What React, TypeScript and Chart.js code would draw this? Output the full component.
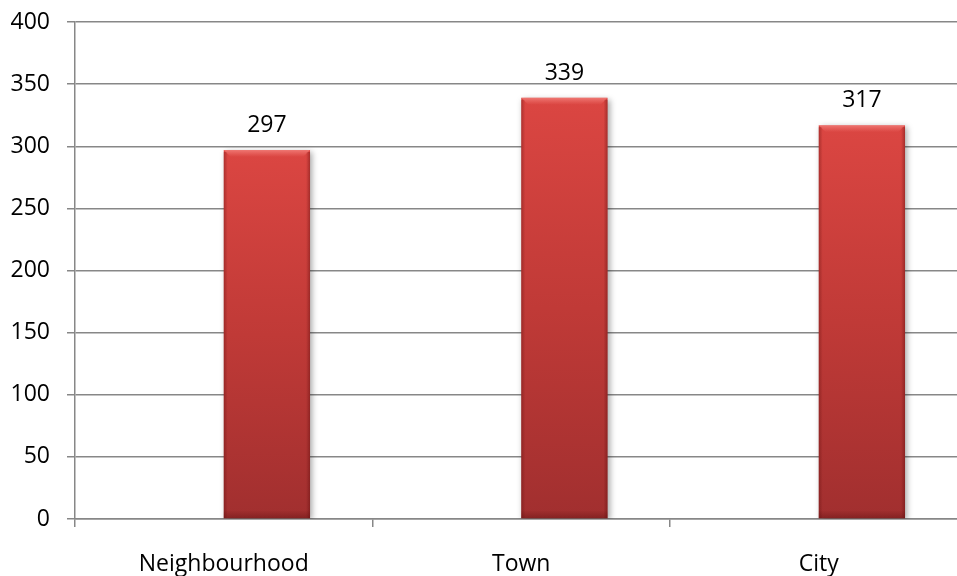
import React, { useEffect, useRef } from "react";
import { Chart, registerables } from "chart.js";

Chart.register(...registerables);

const categories = ["Neighbourhood", "Town", "City"];
const emptySeries: (number | null)[] = [null, null, null];
const values = [297, 339, 317];
const yMin = 0;
const yMax = 400;
const yStep = 50;

const FONT = "'Open Sans', sans-serif";
const FONT_SIZE = 23;
const GRID = "#878787";

const barEffects = {
  id: "barEffects",
  beforeDatasetDraw(chart: any, args: any) {
    if (args.index !== 1) return;
    const ctx = chart.ctx;
    ctx.save();
    ctx.shadowColor = "rgba(0,0,0,0.35)";
    ctx.shadowBlur = 6;
    ctx.shadowOffsetX = 2;
    ctx.shadowOffsetY = 2;
  },
  afterDatasetDraw(chart: any, args: any) {
    if (args.index !== 1) return;
    const ctx = chart.ctx;
    ctx.restore();
    const meta = chart.getDatasetMeta(1);
    meta.data.forEach((bar: any, i: number) => {
      const l = bar.x - bar.width / 2;
      const r = bar.x + bar.width / 2;
      const t = bar.y;
      const b = bar.base;
      if (![l, r, t, b].every(Number.isFinite)) return;
      const bev = 7;
      ctx.save();
      const g = ctx.createLinearGradient(0, t, 0, t + bev);
      g.addColorStop(0, "rgba(255,160,155,0.55)");
      g.addColorStop(1, "rgba(255,140,135,0.0)");
      ctx.fillStyle = g;
      ctx.beginPath();
      ctx.moveTo(l, t);
      ctx.lineTo(r, t);
      ctx.lineTo(r - bev, t + bev);
      ctx.lineTo(l + bev, t + bev);
      ctx.closePath();
      ctx.fill();
      const sl = ctx.createLinearGradient(l, 0, l + 4, 0);
      sl.addColorStop(0, "rgba(90,10,10,0.35)");
      sl.addColorStop(1, "rgba(90,10,10,0)");
      ctx.fillStyle = sl;
      ctx.fillRect(l, t + 2, 4, b - t - 2);
      const sr = ctx.createLinearGradient(r, 0, r - 4, 0);
      sr.addColorStop(0, "rgba(90,10,10,0.4)");
      sr.addColorStop(1, "rgba(90,10,10,0)");
      ctx.fillStyle = sr;
      ctx.fillRect(r - 4, t + 2, 4, b - t - 2);
      const sb = ctx.createLinearGradient(0, b, 0, b - 8);
      sb.addColorStop(0, "rgba(80,10,10,0.35)");
      sb.addColorStop(1, "rgba(80,10,10,0)");
      ctx.fillStyle = sb;
      ctx.fillRect(l, b - 8, r - l, 8);
      ctx.restore();
      ctx.save();
      ctx.fillStyle = "#000";
      ctx.font = `${FONT_SIZE}px ${FONT}`;
      ctx.textAlign = "center";
      ctx.textBaseline = "alphabetic";
      ctx.fillText(String(values[i]), bar.x, bar.y - 18);
      ctx.restore();
    });
  },
};

export default function App() {
  const ref = useRef<HTMLCanvasElement | null>(null);
  useEffect(() => {
    if (!ref.current) return;
    const chart = new Chart(ref.current, {
      type: "bar",
      data: {
        labels: categories,
        datasets: [
          {
            label: "Series 1",
            data: emptySeries,
            backgroundColor: "#4f81bd",
          },
          {
            label: "Series 2",
            data: values,
            backgroundColor: (c: any) => {
              const chart = c.chart;
              const ys = chart.scales?.y;
              if (!ys || c.raw == null) return "#c23b38";
              const top = ys.getPixelForValue(c.raw);
              const bot = ys.getPixelForValue(0);
              if (!Number.isFinite(top) || !Number.isFinite(bot) || top === bot) return "#c23b38";
              const g = chart.ctx.createLinearGradient(0, top, 0, bot);
              g.addColorStop(0, "#db4642");
              g.addColorStop(0.5, "#c03a37");
              g.addColorStop(1, "#a12f2f");
              return g;
            },
            borderWidth: 0,
          },
        ],
      },
      options: {
        animation: false,
        responsive: false,
        layout: { padding: { left: 0, right: 12.5, top: 22, bottom: 0 } },
        categoryPercentage: 0.58,
        barPercentage: 1,
        plugins: {
          legend: { display: false },
          tooltip: { enabled: false },
        },
        scales: {
          x: {
            offset: true,
            afterFit: (s: any) => {
              s.height = 57;
            },
            grid: {
              offset: true,
              drawOnChartArea: false,
              drawTicks: true,
              tickLength: 8,
              color: GRID,
              lineWidth: 1.5,
            },
            border: { display: true, color: GRID, width: 1.5 },
            ticks: {
              color: "#000",
              font: { family: FONT, size: FONT_SIZE },
              padding: 24,
              maxRotation: 0,
            },
          },
          y: {
            min: yMin,
            max: yMax,
            afterFit: (s: any) => {
              s.width = 75;
              s.paddingTop = 0;
              s.paddingBottom = 0;
            },
            ticks: {
              stepSize: yStep,
              color: "#000",
              font: { family: FONT, size: FONT_SIZE },
              padding: 17,
            },
            grid: {
              color: GRID,
              lineWidth: 1.5,
              tickLength: 8,
              drawTicks: true,
            },
            border: { display: true, color: GRID, width: 1.5 },
          },
        },
      } as any,
      plugins: [barEffects],
    });
    return () => chart.destroy();
  }, []);
  return (
    <div style={{ position: "fixed", left: 0, top: 0, width: 980, height: 576, background: "#fff" }}>
      <canvas ref={ref} width={980} height={576} />
    </div>
  );
}
